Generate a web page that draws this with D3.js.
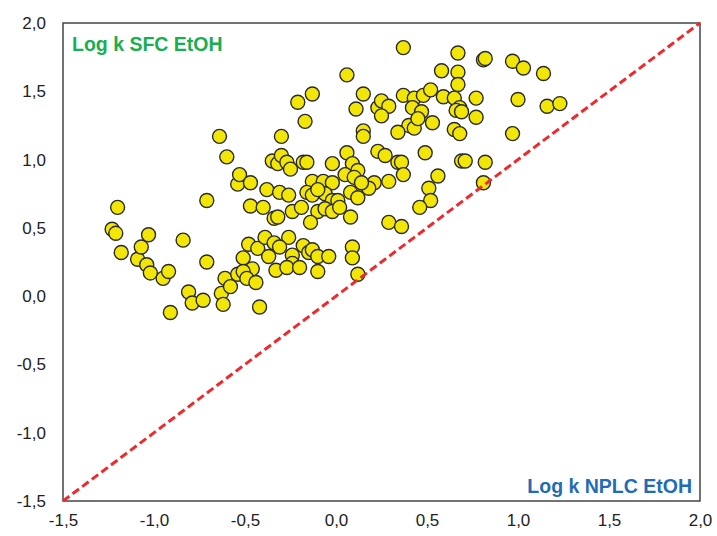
<!DOCTYPE html>
<html>
<head>
<meta charset="utf-8">
<script src="https://cdn.jsdelivr.net/npm/d3@7"></script>
<style>
  body { margin: 0; background: #fff; }
  svg { display: block; }
  text { font-family: Arial, "Liberation Sans", sans-serif; }
</style>
</head>
<body>
<svg width="717" height="536"></svg>
<script>
// Log k NPLC EtOH (x) vs Log k SFC EtOH (y)
var xValues = [
  -1.23, -1.21, -1.20, -1.18, -1.09, -1.07, -1.03, -1.04, -1.02, -0.95,
  -0.92, -0.91, -0.84, -0.81, -0.79, -0.73, -0.71, -0.71, -0.64, -0.60,
  -0.63, -0.62, -0.61, -0.54, -0.53, -0.47, -0.38, -0.47, -0.40, -0.34,
  -0.48, -0.43, -0.39, -0.34, -0.37, -0.51, -0.46, -0.54, -0.51, -0.49,
  -0.44, -0.58, -0.42, -0.33, -0.30, -0.35, -0.32, -0.30, -0.27, -0.25,
  -0.31, -0.26, -0.21, -0.26, -0.31, -0.24, -0.24, -0.27, -0.20, -0.32,
  -0.24, -0.19, -0.13, -0.17, 0.06, -0.18, -0.16, -0.02, 0.06, 0.09,
  0.12, 0.05, 0.10, -0.13, -0.07, -0.02, -0.16, -0.13, -0.06, -0.02,
  0.01, -0.10, -0.06, -0.02, 0.02, 0.08, 0.12, 0.08, -0.14, -0.18,
  -0.15, -0.13, -0.10, -0.04, -0.10, 0.09, 0.09, 0.12, -0.10, 0.15,
  0.11, 0.15, 0.15, 0.23, 0.25, 0.29, 0.25, 0.23, 0.27, 0.34,
  0.36, 0.37, 0.29, 0.21, 0.18, 0.14, 0.37, 0.37, 0.43, 0.40,
  0.43, 0.34, 0.42, 0.47, 0.45, 0.29, 0.36, 0.48, 0.52, 0.58,
  0.67, 0.67, 0.67, 0.59, 0.65, 0.77, 0.68, 0.66, 0.69, 0.77,
  0.53, 0.65, 0.68, 0.49, 0.69, 0.71, 0.82, 0.56, 0.51, 0.52,
  0.46, 0.81, 0.81, 0.82, 0.97, 1.03, 1.14, 1.00, 1.16, 1.23,
  0.97
];
var yValues = [
  0.49, 0.46, 0.65, 0.32, 0.27, 0.36, 0.45, 0.23, 0.17, 0.13,
  0.18, -0.12, 0.41, 0.03, -0.05, -0.03, 0.70, 0.25, 1.17, 1.02,
  0.02, -0.06, 0.13, 0.82, 0.89, 0.83, 0.78, 0.66, 0.65, 0.57,
  0.38, 0.35, 0.43, 0.39, 0.29, 0.28, 0.20, 0.16, 0.18, 0.13,
  0.10, 0.07, -0.08, 0.19, 1.17, 0.99, 0.97, 1.03, 0.98, 0.93,
  0.76, 0.74, 1.42, 0.43, 0.36, 0.30, 0.24, 0.21, 0.21, 0.58,
  0.62, 0.65, 1.48, 1.28, 1.62, 0.98, 0.98, 0.97, 1.05, 0.97,
  0.92, 0.89, 0.87, 0.84, 0.84, 0.83, 0.76, 0.74, 0.75, 0.70,
  0.70, 0.62, 0.64, 0.62, 0.65, 0.76, 0.72, 0.58, 0.54, 0.37,
  0.32, 0.34, 0.29, 0.29, 0.18, 0.36, 0.28, 0.16, 0.78, 1.48,
  1.37, 1.21, 1.17, 1.38, 1.43, 1.39, 1.32, 1.06, 1.03, 0.98,
  0.98, 0.89, 0.84, 0.83, 0.79, 0.83, 1.82, 1.47, 1.45, 1.25,
  1.23, 1.20, 1.38, 1.35, 1.30, 0.54, 0.51, 1.47, 1.51, 1.65,
  1.78, 1.64, 1.55, 1.46, 1.45, 1.45, 1.38, 1.36, 1.35, 1.31,
  1.27, 1.22, 1.19, 1.05, 0.99, 0.99, 0.98, 0.88, 0.79, 0.70,
  0.65, 0.83, 1.73, 1.74, 1.72, 1.67, 1.63, 1.44, 1.39, 1.41,
  1.19
];
var tickValues = [-1.5, -1.0, -0.5, 0.0, 0.5, 1.0, 1.5, 2.0];
var domain = [-1.5, 2.0];

var points = xValues.map(function(x, i) {
    return { x: x, y: yValues[i] };
});

var svg = d3.select("svg"),
    width = +svg.attr("width"),
    height = +svg.attr("height");

var margin = { top: 23, right: 17, bottom: 35, left: 63 };

var x = d3.scaleLinear().domain(domain).range([margin.left, width - margin.right]);
var y = d3.scaleLinear().domain(domain).range([height - margin.bottom, margin.top]);

// comma decimal, plain hyphen minus
var locale = d3.formatLocale({ decimal: ",", thousands: ".", grouping: [3], currency: ["", ""], minus: "-" });
var fmt = locale.format(".1f");

// axes: labels only, no tick marks or domain line
var xAxis = svg.append("g")
    .attr("transform", "translate(0," + (height - margin.bottom) + ")")
    .call(d3.axisBottom(x).tickValues(tickValues).tickFormat(fmt).tickSize(0).tickPadding(13));
var yAxis = svg.append("g")
    .attr("transform", "translate(" + margin.left + ",0)")
    .call(d3.axisLeft(y).tickValues(tickValues).tickFormat(fmt).tickSize(0).tickPadding(17));

[xAxis, yAxis].forEach(function(g) {
    g.select(".domain").remove();
    g.selectAll("text")
        .style("font-size", "17px")
        .style("font-family", "Arial, 'Liberation Sans', sans-serif")
        .attr("fill", "#222");
});

// plot frame
svg.append("rect")
    .attr("x", x(domain[0]))
    .attr("y", y(domain[1]))
    .attr("width", x(domain[1]) - x(domain[0]))
    .attr("height", y(domain[0]) - y(domain[1]))
    .attr("fill", "none")
    .attr("stroke", "#444")
    .attr("stroke-width", 1.5);

// scatter
svg.append("g")
    .selectAll("circle")
    .data(points)
    .enter().append("circle")
    .attr("cx", function(d) { return x(d.x); })
    .attr("cy", function(d) { return y(d.y); })
    .attr("r", 7)
    .attr("fill", "#f2e607")
    .attr("stroke", "#2a2a2a")
    .attr("stroke-width", 1.4);

// y = x line
svg.append("line")
    .attr("x1", x(domain[0]))
    .attr("y1", y(domain[0]))
    .attr("x2", x(domain[1]))
    .attr("y2", y(domain[1]))
    .attr("stroke", "#ee2a2f")
    .attr("stroke-width", 3)
    .attr("stroke-dasharray", "8,4");

svg.append("text")
    .attr("x", 72)
    .attr("y", 51)
    .attr("fill", "#1aae52")
    .style("font-size", "19.5px")
    .style("font-weight", "bold")
    .text("Log k SFC EtOH");

svg.append("text")
    .attr("x", 692)
    .attr("y", 493)
    .attr("text-anchor", "end")
    .attr("fill", "#1f6db5")
    .style("font-size", "19.5px")
    .style("font-weight", "bold")
    .text("Log k NPLC EtOH");
</script>
</body>
</html>
